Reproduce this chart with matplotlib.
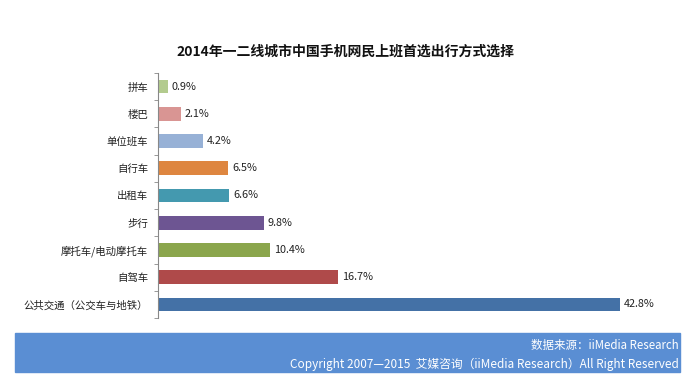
import matplotlib.pyplot as plt
from matplotlib.patches import Rectangle

plt.rcParams['font.family'] = ['Noto Sans CJK SC', 'DejaVu Sans']

# data, top to bottom
modes = ['拼车', '楼巴', '单位班车', '自行车', '出租车', '步行',
         '摩托车/电动摩托车', '自驾车', '公共交通（公交车与地铁）']
shares = [0.9, 2.1, 4.2, 6.5, 6.6, 9.8, 10.4, 16.7, 42.8]
colors = ['#B3CB8E', '#D99593', '#97B1D6', '#DE8640', '#4499AF',
          '#6D5592', '#8BA64D', '#AF4A4A', '#4471A6']

fig = plt.figure(figsize=(6.9, 3.77), dpi=100)
ax = fig.add_axes([158 / 690, 1 - 318 / 377, 522 / 690, 245 / 377])

pos = list(range(len(modes)))
ax.barh(pos, shares, height=0.5, color=colors)
for p, v in zip(pos, shares):
    ax.text(v + 0.35, p, f'{v}%', va='center', ha='left', fontsize=7.8, color='#222222')

ax.set_ylim(len(modes) - 0.5, -0.5)
ax.set_xlim(0, 522 / 10.8)
ax.set_yticks(pos)
ax.set_yticklabels(modes, fontsize=7.5, color='#222222')
ax.tick_params(axis='y', which='major', length=0, pad=7)
ax.set_yticks([i - 0.5 for i in range(len(modes) + 1)], minor=True)
ax.tick_params(axis='y', which='minor', length=3, color='#888888')
ax.set_xticks([])
for s in ['top', 'right', 'bottom']:
    ax.spines[s].set_visible(False)
ax.spines['left'].set_color('#888888')

fig.text(345 / 690, 1 - 52 / 377, '2014年一二线城市中国手机网民上班首选出行方式选择',
         ha='center', va='center', fontsize=10, fontweight='bold', color='#111111')

# footer band
fig.patches.append(Rectangle((15 / 690, 1 - 372 / 377), 665 / 690, 39 / 377,
                             transform=fig.transFigure, color='#5A8ED3', zorder=0))
fig.text(679 / 690, 1 - 346 / 377, '数据来源：iiMedia Research', ha='right', va='center',
         fontsize=8.3, color='white')
fig.text(679 / 690, 1 - 364 / 377,
         'Copyright 2007—2015  艾媒咨询（iiMedia Research）All Right Reserved',
         ha='right', va='center', fontsize=8.5, color='white')

fig.savefig('out.png', dpi=100)
